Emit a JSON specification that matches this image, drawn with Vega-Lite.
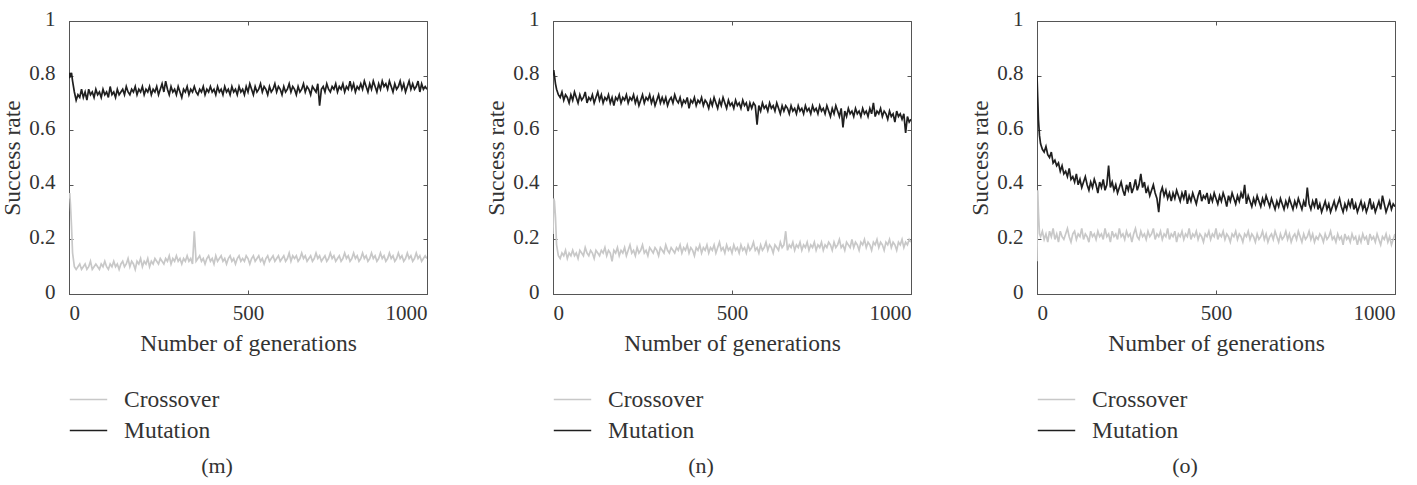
{
"$schema": "https://vega.github.io/schema/vega-lite/v6.json",
"padding": {"left": 0, "top": 7, "right": 0, "bottom": 0},
"background": "white",
"config": {
  "font": "'Liberation Serif', 'Times New Roman', Times, serif",
  "view": {"stroke": "#555555", "strokeWidth": 1},
  "axis": {"labelFont": "'Liberation Serif', 'Times New Roman', Times, serif", "labelFontSize": 21, "labelColor": "#333333", "titleFont": "'Liberation Serif', 'Times New Roman', Times, serif", "titleFontSize": 23.5, "titleFontWeight": "normal", "titleColor": "#333333", "grid": false, "domainColor": "#555555", "tickColor": "#555555", "tickSize": -4},
  "axisX": {"labelPadding": 12, "titlePadding": 8},
  "axisY": {"labelPadding": 18, "labelOffset": -2, "titlePadding": 4},
  "legend": {"labelFont": "'Liberation Serif', 'Times New Roman', Times, serif", "labelFontSize": 23.5, "labelColor": "#333333", "symbolType": "stroke", "symbolSize": 1400, "symbolStrokeWidth": 1.3, "labelOffset": 16, "rowPadding": 0, "orient": "none", "legendX": 0, "legendY": 359, "title": null},
  "title": {"font": "'Liberation Serif', 'Times New Roman', Times, serif", "fontSize": 22, "fontWeight": "normal", "color": "#333333"}
},
"bounds": "flush",
"spacing": 126,
"datasets": {"d": [
{"g":0,"mc":0.35,"mm":0.79,"nc":0.22,"nm":0.80,"oc":0.12,"om":0.80},
{"g":2,"mc":0.37,"mm":0.81,"nc":0.35,"nm":0.82,"oc":0.38,"om":0.72},
{"g":4,"mc":0.33,"mm":0.80,"nc":0.34,"nm":0.80,"oc":0.30,"om":0.64},
{"g":7,"mc":0.25,"mm":0.81,"nc":0.28,"nm":0.77,"oc":0.22,"om":0.58},
{"g":10,"mc":0.15,"mm":0.78,"nc":0.18,"nm":0.75,"oc":0.21,"om":0.55},
{"g":15,"mc":0.10,"mm":0.74,"nc":0.14,"nm":0.73,"oc":0.23,"om":0.53},
{"g":20,"mc":0.09,"mm":0.71,"nc":0.13,"nm":0.72,"oc":0.20,"om":0.52},
{"g":25,"mc":0.10,"mm":0.73,"nc":0.15,"nm":0.74,"oc":0.22,"om":0.54},
{"g":30,"mc":0.11,"mm":0.72,"nc":0.14,"nm":0.71,"oc":0.19,"om":0.51},
{"g":35,"mc":0.09,"mm":0.75,"nc":0.16,"nm":0.73,"oc":0.23,"om":0.50},
{"g":40,"mc":0.10,"mm":0.72,"nc":0.13,"nm":0.72,"oc":0.21,"om":0.52},
{"g":45,"mc":0.11,"mm":0.74,"nc":0.15,"nm":0.70,"oc":0.24,"om":0.48},
{"g":50,"mc":0.09,"mm":0.71,"nc":0.14,"nm":0.73,"oc":0.20,"om":0.49},
{"g":55,"mc":0.10,"mm":0.75,"nc":0.16,"nm":0.71,"oc":0.22,"om":0.47},
{"g":60,"mc":0.12,"mm":0.73,"nc":0.14,"nm":0.74,"oc":0.19,"om":0.48},
{"g":65,"mc":0.09,"mm":0.74,"nc":0.15,"nm":0.72,"oc":0.23,"om":0.45},
{"g":70,"mc":0.10,"mm":0.72,"nc":0.13,"nm":0.70,"oc":0.21,"om":0.47},
{"g":75,"mc":0.11,"mm":0.75,"nc":0.16,"nm":0.73,"oc":0.20,"om":0.44},
{"g":80,"mc":0.10,"mm":0.73,"nc":0.15,"nm":0.71,"oc":0.22,"om":0.45},
{"g":85,"mc":0.09,"mm":0.74,"nc":0.14,"nm":0.72,"oc":0.24,"om":0.43},
{"g":90,"mc":0.11,"mm":0.72,"nc":0.17,"nm":0.74,"oc":0.21,"om":0.46},
{"g":95,"mc":0.10,"mm":0.75,"nc":0.15,"nm":0.70,"oc":0.19,"om":0.42},
{"g":100,"mc":0.12,"mm":0.73,"nc":0.14,"nm":0.72,"oc":0.22,"om":0.43},
{"g":105,"mc":0.10,"mm":0.74,"nc":0.16,"nm":0.71,"oc":0.23,"om":0.41},
{"g":110,"mc":0.09,"mm":0.72,"nc":0.15,"nm":0.73,"oc":0.20,"om":0.44},
{"g":115,"mc":0.11,"mm":0.76,"nc":0.13,"nm":0.70,"oc":0.22,"om":0.40},
{"g":120,"mc":0.10,"mm":0.73,"nc":0.16,"nm":0.72,"oc":0.21,"om":0.42},
{"g":125,"mc":0.12,"mm":0.74,"nc":0.15,"nm":0.74,"oc":0.24,"om":0.39},
{"g":130,"mc":0.10,"mm":0.72,"nc":0.14,"nm":0.71,"oc":0.20,"om":0.41},
{"g":135,"mc":0.11,"mm":0.75,"nc":0.16,"nm":0.73,"oc":0.22,"om":0.43},
{"g":140,"mc":0.09,"mm":0.73,"nc":0.15,"nm":0.70,"oc":0.21,"om":0.40},
{"g":145,"mc":0.11,"mm":0.74,"nc":0.17,"nm":0.72,"oc":0.19,"om":0.38},
{"g":150,"mc":0.12,"mm":0.75,"nc":0.14,"nm":0.71,"oc":0.23,"om":0.41},
{"g":155,"mc":0.10,"mm":0.73,"nc":0.16,"nm":0.73,"oc":0.21,"om":0.39},
{"g":160,"mc":0.11,"mm":0.76,"nc":0.15,"nm":0.70,"oc":0.22,"om":0.42},
{"g":165,"mc":0.13,"mm":0.74,"nc":0.12,"nm":0.72,"oc":0.20,"om":0.40},
{"g":170,"mc":0.10,"mm":0.73,"nc":0.16,"nm":0.69,"oc":0.23,"om":0.37},
{"g":175,"mc":0.12,"mm":0.75,"nc":0.15,"nm":0.72,"oc":0.21,"om":0.41},
{"g":180,"mc":0.11,"mm":0.74,"nc":0.17,"nm":0.71,"oc":0.22,"om":0.39},
{"g":185,"mc":0.09,"mm":0.76,"nc":0.14,"nm":0.73,"oc":0.20,"om":0.42},
{"g":190,"mc":0.12,"mm":0.73,"nc":0.16,"nm":0.70,"oc":0.24,"om":0.38},
{"g":195,"mc":0.11,"mm":0.75,"nc":0.15,"nm":0.72,"oc":0.21,"om":0.40},
{"g":200,"mc":0.13,"mm":0.74,"nc":0.17,"nm":0.71,"oc":0.22,"om":0.47},
{"g":205,"mc":0.10,"mm":0.76,"nc":0.14,"nm":0.73,"oc":0.19,"om":0.39},
{"g":210,"mc":0.12,"mm":0.73,"nc":0.16,"nm":0.70,"oc":0.23,"om":0.41},
{"g":215,"mc":0.11,"mm":0.75,"nc":0.18,"nm":0.72,"oc":0.21,"om":0.38},
{"g":220,"mc":0.13,"mm":0.74,"nc":0.15,"nm":0.71,"oc":0.22,"om":0.40},
{"g":225,"mc":0.10,"mm":0.76,"nc":0.16,"nm":0.73,"oc":0.20,"om":0.37},
{"g":230,"mc":0.12,"mm":0.73,"nc":0.14,"nm":0.70,"oc":0.24,"om":0.39},
{"g":235,"mc":0.11,"mm":0.75,"nc":0.17,"nm":0.72,"oc":0.21,"om":0.41},
{"g":240,"mc":0.13,"mm":0.74,"nc":0.15,"nm":0.69,"oc":0.22,"om":0.38},
{"g":245,"mc":0.12,"mm":0.76,"nc":0.16,"nm":0.71,"oc":0.20,"om":0.36},
{"g":250,"mc":0.11,"mm":0.73,"nc":0.18,"nm":0.73,"oc":0.23,"om":0.40},
{"g":255,"mc":0.13,"mm":0.75,"nc":0.15,"nm":0.70,"oc":0.21,"om":0.38},
{"g":260,"mc":0.12,"mm":0.77,"nc":0.16,"nm":0.72,"oc":0.22,"om":0.41},
{"g":265,"mc":0.11,"mm":0.74,"nc":0.14,"nm":0.71,"oc":0.19,"om":0.37},
{"g":270,"mc":0.13,"mm":0.78,"nc":0.17,"nm":0.73,"oc":0.22,"om":0.39},
{"g":275,"mc":0.12,"mm":0.75,"nc":0.16,"nm":0.70,"oc":0.24,"om":0.42},
{"g":280,"mc":0.14,"mm":0.73,"nc":0.15,"nm":0.72,"oc":0.21,"om":0.38},
{"g":285,"mc":0.11,"mm":0.76,"nc":0.17,"nm":0.69,"oc":0.20,"om":0.40},
{"g":290,"mc":0.13,"mm":0.74,"nc":0.16,"nm":0.71,"oc":0.23,"om":0.44},
{"g":295,"mc":0.12,"mm":0.75,"nc":0.14,"nm":0.73,"oc":0.21,"om":0.39},
{"g":300,"mc":0.14,"mm":0.73,"nc":0.17,"nm":0.70,"oc":0.22,"om":0.41},
{"g":305,"mc":0.12,"mm":0.76,"nc":0.16,"nm":0.72,"oc":0.20,"om":0.37},
{"g":310,"mc":0.13,"mm":0.74,"nc":0.15,"nm":0.70,"oc":0.23,"om":0.39},
{"g":315,"mc":0.11,"mm":0.72,"nc":0.18,"nm":0.72,"oc":0.21,"om":0.36},
{"g":320,"mc":0.13,"mm":0.75,"nc":0.16,"nm":0.69,"oc":0.22,"om":0.38},
{"g":325,"mc":0.12,"mm":0.74,"nc":0.15,"nm":0.71,"oc":0.24,"om":0.40},
{"g":330,"mc":0.14,"mm":0.76,"nc":0.17,"nm":0.72,"oc":0.20,"om":0.37},
{"g":335,"mc":0.12,"mm":0.73,"nc":0.16,"nm":0.70,"oc":0.22,"om":0.35},
{"g":340,"mc":0.13,"mm":0.75,"nc":0.15,"nm":0.73,"oc":0.21,"om":0.30},
{"g":345,"mc":0.11,"mm":0.74,"nc":0.17,"nm":0.71,"oc":0.23,"om":0.37},
{"g":350,"mc":0.23,"mm":0.76,"nc":0.16,"nm":0.70,"oc":0.20,"om":0.39},
{"g":355,"mc":0.12,"mm":0.74,"nc":0.18,"nm":0.72,"oc":0.22,"om":0.36},
{"g":360,"mc":0.13,"mm":0.73,"nc":0.15,"nm":0.69,"oc":0.21,"om":0.38},
{"g":365,"mc":0.14,"mm":0.75,"nc":0.17,"nm":0.71,"oc":0.24,"om":0.35},
{"g":370,"mc":0.12,"mm":0.74,"nc":0.16,"nm":0.70,"oc":0.20,"om":0.37},
{"g":375,"mc":0.13,"mm":0.76,"nc":0.18,"nm":0.72,"oc":0.22,"om":0.34},
{"g":380,"mc":0.11,"mm":0.73,"nc":0.15,"nm":0.68,"oc":0.21,"om":0.37},
{"g":385,"mc":0.13,"mm":0.75,"nc":0.17,"nm":0.71,"oc":0.23,"om":0.35},
{"g":390,"mc":0.14,"mm":0.74,"nc":0.16,"nm":0.70,"oc":0.19,"om":0.38},
{"g":395,"mc":0.12,"mm":0.76,"nc":0.14,"nm":0.72,"oc":0.22,"om":0.36},
{"g":400,"mc":0.13,"mm":0.74,"nc":0.17,"nm":0.69,"oc":0.21,"om":0.34},
{"g":405,"mc":0.11,"mm":0.75,"nc":0.16,"nm":0.71,"oc":0.23,"om":0.37},
{"g":410,"mc":0.14,"mm":0.73,"nc":0.18,"nm":0.70,"oc":0.20,"om":0.35},
{"g":415,"mc":0.12,"mm":0.76,"nc":0.15,"nm":0.72,"oc":0.22,"om":0.38},
{"g":420,"mc":0.13,"mm":0.74,"nc":0.17,"nm":0.69,"oc":0.21,"om":0.33},
{"g":425,"mc":0.14,"mm":0.75,"nc":0.16,"nm":0.71,"oc":0.24,"om":0.36},
{"g":430,"mc":0.12,"mm":0.73,"nc":0.18,"nm":0.70,"oc":0.20,"om":0.34},
{"g":435,"mc":0.13,"mm":0.76,"nc":0.15,"nm":0.68,"oc":0.22,"om":0.37},
{"g":440,"mc":0.11,"mm":0.74,"nc":0.17,"nm":0.71,"oc":0.21,"om":0.35},
{"g":445,"mc":0.13,"mm":0.75,"nc":0.16,"nm":0.69,"oc":0.23,"om":0.33},
{"g":450,"mc":0.14,"mm":0.73,"nc":0.18,"nm":0.72,"oc":0.20,"om":0.36},
{"g":455,"mc":0.12,"mm":0.76,"nc":0.15,"nm":0.70,"oc":0.22,"om":0.38},
{"g":460,"mc":0.13,"mm":0.74,"nc":0.17,"nm":0.68,"oc":0.21,"om":0.34},
{"g":465,"mc":0.11,"mm":0.75,"nc":0.19,"nm":0.71,"oc":0.19,"om":0.36},
{"g":470,"mc":0.13,"mm":0.73,"nc":0.16,"nm":0.69,"oc":0.22,"om":0.35},
{"g":475,"mc":0.14,"mm":0.76,"nc":0.17,"nm":0.72,"oc":0.21,"om":0.37},
{"g":480,"mc":0.12,"mm":0.74,"nc":0.15,"nm":0.70,"oc":0.23,"om":0.33},
{"g":485,"mc":0.13,"mm":0.75,"nc":0.18,"nm":0.68,"oc":0.20,"om":0.36},
{"g":490,"mc":0.12,"mm":0.73,"nc":0.16,"nm":0.71,"oc":0.22,"om":0.34},
{"g":495,"mc":0.14,"mm":0.76,"nc":0.17,"nm":0.69,"oc":0.21,"om":0.37},
{"g":500,"mc":0.13,"mm":0.74,"nc":0.15,"nm":0.70,"oc":0.24,"om":0.35},
{"g":505,"mc":0.11,"mm":0.77,"nc":0.18,"nm":0.68,"oc":0.20,"om":0.33},
{"g":510,"mc":0.13,"mm":0.75,"nc":0.16,"nm":0.71,"oc":0.22,"om":0.36},
{"g":515,"mc":0.14,"mm":0.73,"nc":0.17,"nm":0.69,"oc":0.21,"om":0.34},
{"g":520,"mc":0.12,"mm":0.76,"nc":0.15,"nm":0.70,"oc":0.23,"om":0.37},
{"g":525,"mc":0.13,"mm":0.74,"nc":0.18,"nm":0.68,"oc":0.20,"om":0.35},
{"g":530,"mc":0.14,"mm":0.75,"nc":0.16,"nm":0.71,"oc":0.22,"om":0.32},
{"g":535,"mc":0.12,"mm":0.77,"nc":0.17,"nm":0.69,"oc":0.21,"om":0.36},
{"g":540,"mc":0.13,"mm":0.74,"nc":0.15,"nm":0.70,"oc":0.19,"om":0.34},
{"g":545,"mc":0.11,"mm":0.76,"nc":0.18,"nm":0.67,"oc":0.22,"om":0.37},
{"g":550,"mc":0.13,"mm":0.75,"nc":0.16,"nm":0.70,"oc":0.21,"om":0.35},
{"g":555,"mc":0.14,"mm":0.73,"nc":0.17,"nm":0.68,"oc":0.23,"om":0.33},
{"g":560,"mc":0.12,"mm":0.76,"nc":0.19,"nm":0.70,"oc":0.20,"om":0.36},
{"g":565,"mc":0.13,"mm":0.74,"nc":0.16,"nm":0.69,"oc":0.22,"om":0.34},
{"g":570,"mc":0.14,"mm":0.75,"nc":0.17,"nm":0.62,"oc":0.21,"om":0.37},
{"g":575,"mc":0.12,"mm":0.77,"nc":0.15,"nm":0.69,"oc":0.19,"om":0.35},
{"g":580,"mc":0.13,"mm":0.74,"nc":0.18,"nm":0.67,"oc":0.22,"om":0.40},
{"g":585,"mc":0.14,"mm":0.76,"nc":0.16,"nm":0.70,"oc":0.21,"om":0.33},
{"g":590,"mc":0.12,"mm":0.75,"nc":0.17,"nm":0.68,"oc":0.23,"om":0.36},
{"g":595,"mc":0.13,"mm":0.73,"nc":0.19,"nm":0.69,"oc":0.20,"om":0.34},
{"g":600,"mc":0.14,"mm":0.76,"nc":0.16,"nm":0.67,"oc":0.22,"om":0.32},
{"g":605,"mc":0.12,"mm":0.74,"nc":0.18,"nm":0.70,"oc":0.21,"om":0.35},
{"g":610,"mc":0.13,"mm":0.75,"nc":0.17,"nm":0.68,"oc":0.19,"om":0.33},
{"g":615,"mc":0.15,"mm":0.77,"nc":0.15,"nm":0.69,"oc":0.22,"om":0.36},
{"g":620,"mc":0.12,"mm":0.74,"nc":0.18,"nm":0.67,"oc":0.20,"om":0.34},
{"g":625,"mc":0.14,"mm":0.76,"nc":0.17,"nm":0.70,"oc":0.21,"om":0.32},
{"g":630,"mc":0.13,"mm":0.75,"nc":0.16,"nm":0.68,"oc":0.23,"om":0.35},
{"g":635,"mc":0.14,"mm":0.73,"nc":0.19,"nm":0.66,"oc":0.20,"om":0.33},
{"g":640,"mc":0.12,"mm":0.76,"nc":0.17,"nm":0.69,"oc":0.22,"om":0.36},
{"g":645,"mc":0.13,"mm":0.74,"nc":0.18,"nm":0.67,"oc":0.19,"om":0.34},
{"g":650,"mc":0.15,"mm":0.75,"nc":0.23,"nm":0.69,"oc":0.21,"om":0.32},
{"g":655,"mc":0.13,"mm":0.77,"nc":0.16,"nm":0.68,"oc":0.22,"om":0.35},
{"g":660,"mc":0.14,"mm":0.74,"nc":0.18,"nm":0.66,"oc":0.20,"om":0.33},
{"g":665,"mc":0.12,"mm":0.76,"nc":0.17,"nm":0.69,"oc":0.23,"om":0.31},
{"g":670,"mc":0.13,"mm":0.75,"nc":0.19,"nm":0.67,"oc":0.21,"om":0.34},
{"g":675,"mc":0.14,"mm":0.73,"nc":0.16,"nm":0.68,"oc":0.19,"om":0.32},
{"g":680,"mc":0.12,"mm":0.76,"nc":0.18,"nm":0.66,"oc":0.22,"om":0.35},
{"g":685,"mc":0.13,"mm":0.75,"nc":0.17,"nm":0.69,"oc":0.20,"om":0.33},
{"g":690,"mc":0.15,"mm":0.74,"nc":0.19,"nm":0.67,"oc":0.21,"om":0.31},
{"g":695,"mc":0.13,"mm":0.77,"nc":0.16,"nm":0.68,"oc":0.23,"om":0.34},
{"g":700,"mc":0.14,"mm":0.69,"nc":0.18,"nm":0.66,"oc":0.20,"om":0.32},
{"g":705,"mc":0.12,"mm":0.75,"nc":0.17,"nm":0.69,"oc":0.22,"om":0.35},
{"g":710,"mc":0.13,"mm":0.76,"nc":0.19,"nm":0.67,"oc":0.19,"om":0.33},
{"g":715,"mc":0.14,"mm":0.74,"nc":0.16,"nm":0.68,"oc":0.21,"om":0.31},
{"g":720,"mc":0.12,"mm":0.77,"nc":0.18,"nm":0.66,"oc":0.22,"om":0.34},
{"g":725,"mc":0.13,"mm":0.75,"nc":0.17,"nm":0.69,"oc":0.20,"om":0.32},
{"g":730,"mc":0.15,"mm":0.74,"nc":0.19,"nm":0.67,"oc":0.23,"om":0.35},
{"g":735,"mc":0.13,"mm":0.76,"nc":0.16,"nm":0.68,"oc":0.21,"om":0.33},
{"g":740,"mc":0.14,"mm":0.75,"nc":0.18,"nm":0.66,"oc":0.19,"om":0.31},
{"g":745,"mc":0.12,"mm":0.77,"nc":0.17,"nm":0.69,"oc":0.22,"om":0.34},
{"g":750,"mc":0.13,"mm":0.74,"nc":0.19,"nm":0.67,"oc":0.20,"om":0.32},
{"g":755,"mc":0.14,"mm":0.76,"nc":0.16,"nm":0.68,"oc":0.21,"om":0.39},
{"g":760,"mc":0.12,"mm":0.75,"nc":0.18,"nm":0.66,"oc":0.23,"om":0.33},
{"g":765,"mc":0.13,"mm":0.77,"nc":0.17,"nm":0.69,"oc":0.20,"om":0.31},
{"g":770,"mc":0.15,"mm":0.74,"nc":0.19,"nm":0.67,"oc":0.22,"om":0.34},
{"g":775,"mc":0.13,"mm":0.76,"nc":0.18,"nm":0.65,"oc":0.19,"om":0.32},
{"g":780,"mc":0.14,"mm":0.75,"nc":0.16,"nm":0.68,"oc":0.21,"om":0.35},
{"g":785,"mc":0.12,"mm":0.78,"nc":0.19,"nm":0.66,"oc":0.20,"om":0.31},
{"g":790,"mc":0.13,"mm":0.75,"nc":0.17,"nm":0.69,"oc":0.22,"om":0.33},
{"g":795,"mc":0.15,"mm":0.77,"nc":0.18,"nm":0.67,"oc":0.21,"om":0.30},
{"g":800,"mc":0.13,"mm":0.74,"nc":0.20,"nm":0.65,"oc":0.19,"om":0.32},
{"g":805,"mc":0.14,"mm":0.76,"nc":0.17,"nm":0.68,"oc":0.22,"om":0.34},
{"g":810,"mc":0.12,"mm":0.75,"nc":0.18,"nm":0.61,"oc":0.20,"om":0.31},
{"g":815,"mc":0.13,"mm":0.77,"nc":0.16,"nm":0.67,"oc":0.21,"om":0.33},
{"g":820,"mc":0.15,"mm":0.75,"nc":0.19,"nm":0.65,"oc":0.23,"om":0.30},
{"g":825,"mc":0.13,"mm":0.78,"nc":0.18,"nm":0.68,"oc":0.20,"om":0.32},
{"g":830,"mc":0.14,"mm":0.76,"nc":0.17,"nm":0.66,"oc":0.21,"om":0.34},
{"g":835,"mc":0.12,"mm":0.74,"nc":0.20,"nm":0.67,"oc":0.19,"om":0.31},
{"g":840,"mc":0.13,"mm":0.77,"nc":0.17,"nm":0.65,"oc":0.22,"om":0.33},
{"g":845,"mc":0.15,"mm":0.75,"nc":0.19,"nm":0.68,"oc":0.20,"om":0.35},
{"g":850,"mc":0.13,"mm":0.78,"nc":0.18,"nm":0.66,"oc":0.21,"om":0.32},
{"g":855,"mc":0.14,"mm":0.76,"nc":0.16,"nm":0.67,"oc":0.18,"om":0.30},
{"g":860,"mc":0.12,"mm":0.74,"nc":0.19,"nm":0.65,"oc":0.22,"om":0.33},
{"g":865,"mc":0.13,"mm":0.77,"nc":0.18,"nm":0.68,"oc":0.20,"om":0.31},
{"g":870,"mc":0.15,"mm":0.75,"nc":0.20,"nm":0.66,"oc":0.21,"om":0.34},
{"g":875,"mc":0.13,"mm":0.78,"nc":0.17,"nm":0.67,"oc":0.19,"om":0.32},
{"g":880,"mc":0.14,"mm":0.76,"nc":0.19,"nm":0.65,"oc":0.22,"om":0.35},
{"g":885,"mc":0.12,"mm":0.77,"nc":0.18,"nm":0.68,"oc":0.20,"om":0.31},
{"g":890,"mc":0.13,"mm":0.75,"nc":0.16,"nm":0.66,"oc":0.21,"om":0.33},
{"g":895,"mc":0.15,"mm":0.78,"nc":0.19,"nm":0.70,"oc":0.18,"om":0.30},
{"g":900,"mc":0.13,"mm":0.76,"nc":0.18,"nm":0.65,"oc":0.21,"om":0.32},
{"g":905,"mc":0.14,"mm":0.74,"nc":0.20,"nm":0.67,"oc":0.19,"om":0.34},
{"g":910,"mc":0.12,"mm":0.77,"nc":0.17,"nm":0.66,"oc":0.22,"om":0.31},
{"g":915,"mc":0.13,"mm":0.75,"nc":0.19,"nm":0.68,"oc":0.20,"om":0.33},
{"g":920,"mc":0.15,"mm":0.76,"nc":0.18,"nm":0.65,"oc":0.21,"om":0.30},
{"g":925,"mc":0.13,"mm":0.78,"nc":0.16,"nm":0.67,"oc":0.18,"om":0.32},
{"g":930,"mc":0.14,"mm":0.75,"nc":0.19,"nm":0.66,"oc":0.22,"om":0.35},
{"g":935,"mc":0.12,"mm":0.77,"nc":0.18,"nm":0.64,"oc":0.20,"om":0.31},
{"g":940,"mc":0.13,"mm":0.74,"nc":0.20,"nm":0.67,"oc":0.21,"om":0.33},
{"g":945,"mc":0.15,"mm":0.76,"nc":0.17,"nm":0.65,"oc":0.19,"om":0.30},
{"g":950,"mc":0.13,"mm":0.78,"nc":0.19,"nm":0.66,"oc":0.22,"om":0.32},
{"g":955,"mc":0.14,"mm":0.75,"nc":0.18,"nm":0.63,"oc":0.20,"om":0.34},
{"g":960,"mc":0.12,"mm":0.77,"nc":0.16,"nm":0.67,"oc":0.18,"om":0.31},
{"g":965,"mc":0.13,"mm":0.75,"nc":0.19,"nm":0.65,"oc":0.21,"om":0.36},
{"g":970,"mc":0.15,"mm":0.76,"nc":0.18,"nm":0.66,"oc":0.20,"om":0.33},
{"g":975,"mc":0.13,"mm":0.78,"nc":0.20,"nm":0.64,"oc":0.22,"om":0.30},
{"g":980,"mc":0.14,"mm":0.74,"nc":0.17,"nm":0.66,"oc":0.19,"om":0.32},
{"g":985,"mc":0.12,"mm":0.77,"nc":0.19,"nm":0.59,"oc":0.21,"om":0.34},
{"g":990,"mc":0.13,"mm":0.75,"nc":0.18,"nm":0.65,"oc":0.18,"om":0.31},
{"g":995,"mc":0.14,"mm":0.76,"nc":0.20,"nm":0.63,"oc":0.20,"om":0.33},
{"g":1000,"mc":0.13,"mm":0.75,"nc":0.19,"nm":0.64,"oc":0.22,"om":0.32}
]},
"hconcat": [
 {"width": 358, "height": 273, "data": {"name": "d"},
  "title": {"text": "(m)", "orient": "bottom", "frame": "group", "dx": -31, "offset": 14},
  "transform": [{"fold": ["mc", "mm"], "as": ["k", "v"]}],
  "layer": [
   {"mark": {"type": "line", "strokeWidth": 1.7, "clip": true},
    "encoding": {
     "x": {"field": "g", "type": "quantitative", "scale": {"domain": [0, 1000], "nice": false}, "axis": {"values": [0, 500, 1000], "format": "d", "title": "Number of generations"}},
     "y": {"field": "v", "type": "quantitative", "scale": {"domain": [0, 1]}, "axis": {"values": [0, 0.2, 0.4, 0.6, 0.8, 1], "format": "~g", "title": "Success rate"}},
     "color": {"field": "k", "type": "nominal", "scale": {"domain": ["mc", "mm"], "range": ["#c8c8c8", "#1f1f1f"]}, "legend": {"labelExpr": "datum.value == 'mc' ? 'Crossover' : 'Mutation'"}}
    }},
   {"mark": {"type": "point", "opacity": 0},
    "encoding": {
     "x": {"field": "g", "type": "quantitative", "axis": {"orient": "top", "values": [0, 500, 1000], "labels": false, "title": null, "domain": false}},
     "y": {"field": "v", "type": "quantitative", "axis": {"orient": "right", "values": [0, 0.2, 0.4, 0.6, 0.8, 1], "labels": false, "title": null, "domain": false}}
    }}
  ],
  "resolve": {"axis": {"x": "independent", "y": "independent"}}
 },
 {"width": 358, "height": 273, "data": {"name": "d"},
  "title": {"text": "(n)", "orient": "bottom", "frame": "group", "dx": -31, "offset": 14},
  "transform": [{"fold": ["nc", "nm"], "as": ["k", "v"]}],
  "layer": [
   {"mark": {"type": "line", "strokeWidth": 1.7, "clip": true},
    "encoding": {
     "x": {"field": "g", "type": "quantitative", "scale": {"domain": [0, 1000], "nice": false}, "axis": {"values": [0, 500, 1000], "format": "d", "title": "Number of generations"}},
     "y": {"field": "v", "type": "quantitative", "scale": {"domain": [0, 1]}, "axis": {"values": [0, 0.2, 0.4, 0.6, 0.8, 1], "format": "~g", "title": "Success rate"}},
     "color": {"field": "k", "type": "nominal", "scale": {"domain": ["nc", "nm"], "range": ["#c8c8c8", "#1f1f1f"]}, "legend": {"labelExpr": "datum.value == 'nc' ? 'Crossover' : 'Mutation'"}}
    }},
   {"mark": {"type": "point", "opacity": 0},
    "encoding": {
     "x": {"field": "g", "type": "quantitative", "axis": {"orient": "top", "values": [0, 500, 1000], "labels": false, "title": null, "domain": false}},
     "y": {"field": "v", "type": "quantitative", "axis": {"orient": "right", "values": [0, 0.2, 0.4, 0.6, 0.8, 1], "labels": false, "title": null, "domain": false}}
    }}
  ],
  "resolve": {"axis": {"x": "independent", "y": "independent"}}
 },
 {"width": 358, "height": 273, "data": {"name": "d"},
  "title": {"text": "(o)", "orient": "bottom", "frame": "group", "dx": -31, "offset": 14},
  "transform": [{"fold": ["oc", "om"], "as": ["k", "v"]}],
  "layer": [
   {"mark": {"type": "line", "strokeWidth": 1.7, "clip": true},
    "encoding": {
     "x": {"field": "g", "type": "quantitative", "scale": {"domain": [0, 1000], "nice": false}, "axis": {"values": [0, 500, 1000], "format": "d", "title": "Number of generations"}},
     "y": {"field": "v", "type": "quantitative", "scale": {"domain": [0, 1]}, "axis": {"values": [0, 0.2, 0.4, 0.6, 0.8, 1], "format": "~g", "title": "Success rate"}},
     "color": {"field": "k", "type": "nominal", "scale": {"domain": ["oc", "om"], "range": ["#c8c8c8", "#1f1f1f"]}, "legend": {"labelExpr": "datum.value == 'oc' ? 'Crossover' : 'Mutation'"}}
    }},
   {"mark": {"type": "point", "opacity": 0},
    "encoding": {
     "x": {"field": "g", "type": "quantitative", "axis": {"orient": "top", "values": [0, 500, 1000], "labels": false, "title": null, "domain": false}},
     "y": {"field": "v", "type": "quantitative", "axis": {"orient": "right", "values": [0, 0.2, 0.4, 0.6, 0.8, 1], "labels": false, "title": null, "domain": false}}
    }}
  ],
  "resolve": {"axis": {"x": "independent", "y": "independent"}}
 }
],
"resolve": {"scale": {"color": "independent"}, "legend": {"color": "independent"}}
}
